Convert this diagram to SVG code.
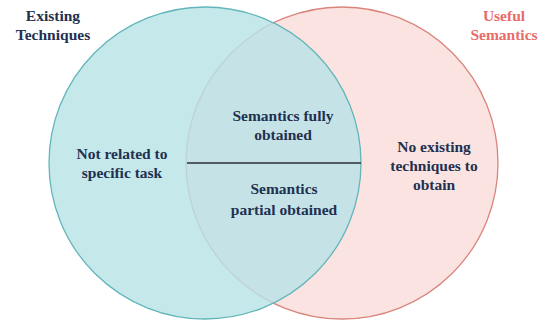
<svg xmlns="http://www.w3.org/2000/svg" width="543" height="323" viewBox="0 0 543 323">
<style>
text{font-family:"Liberation Serif","Times New Roman",serif;font-weight:bold;font-size:15.5px;text-anchor:middle;fill:#1f3050}
.red{fill:#e86c68}
</style>
<rect width="543" height="323" fill="#ffffff"/>
<g id="useful-semantics">
<circle cx="342" cy="163" r="156" fill="#fbe3e1" stroke="#d9857c" stroke-width="1.3"/>
</g>
<g id="existing-techniques">
<circle cx="205" cy="163" r="156" fill="#b8e3e6" fill-opacity="0.82" stroke="#63b5ba" stroke-width="1.3"/>
</g>
<g id="connectors">
<line x1="187" y1="163" x2="361" y2="163" stroke="#2b2f33" stroke-width="1.3"/>
</g>
<g id="label-existing">
<text x="53" y="21">Existing</text>
<text x="53" y="40">Techniques</text>
</g>
<g id="label-useful">
<text class="red" x="504" y="21">Useful</text>
<text class="red" x="504" y="40">Semantics</text>
</g>
<g id="not-related">
<text x="122" y="159">Not related to</text>
<text x="122" y="178">specific task</text>
</g>
<g id="fully">
<text x="283" y="121">Semantics fully</text>
<text x="283" y="140">obtained</text>
</g>
<g id="partial">
<text x="284" y="194">Semantics</text>
<text x="284" y="215">partial obtained</text>
</g>
<g id="no-existing">
<text x="434" y="152">No existing</text>
<text x="434" y="171">techniques to</text>
<text x="434" y="190">obtain</text>
</g>
</svg>
